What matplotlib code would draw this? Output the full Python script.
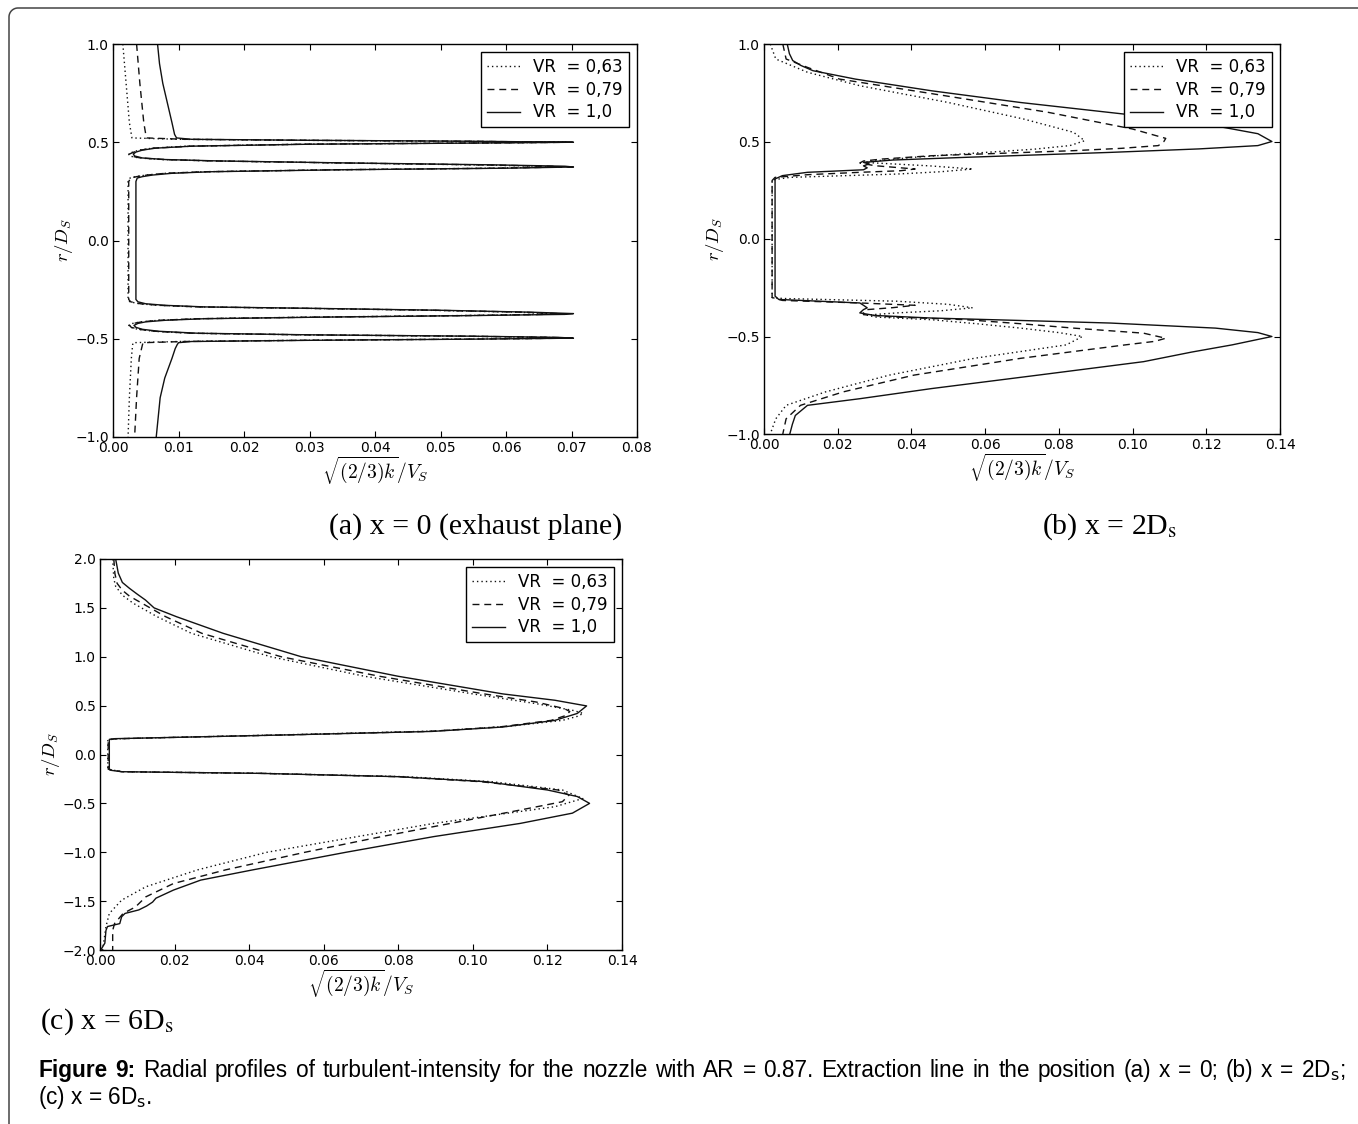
import numpy as np
import matplotlib
matplotlib.use("Agg")
import matplotlib.pyplot as plt

plt.rcParams["font.family"] = ["DejaVu Sans"]
plt.rcParams["mathtext.fontset"] = "cm"

W, H = 1358, 1124

# ---------------- data: r/D_s vs sqrt(2k/3)/V_s ----------------
labels = ["VR  = 0,63", "VR  = 0,79", "VR  = 1,0"]
dash_patterns = [(1.0, 2.2), (5.0, 3.5), None]

# (a) x = 0, exhaust plane
a_r_solid = [1.00, 0.90, 0.80, 0.70, 0.60, 0.54, 0.522, 0.515, 0.510, 0.505, 0.500, 0.497, 0.490,
             0.480, 0.470, 0.460, 0.450, 0.440, 0.430, 0.420, 0.412, 0.405, 0.395, 0.385, 0.378,
             0.374, 0.368, 0.360, 0.350, 0.342, 0.333, 0.325, 0.318, 0.300, 0.10,
             -0.10, -0.300, -0.312, -0.322, -0.330, -0.338, -0.345, -0.355, -0.365, -0.372,
             -0.376, -0.382, -0.390, -0.398, -0.406, -0.414, -0.422, -0.432, -0.442, -0.452,
             -0.462, -0.472, -0.480, -0.487, -0.493, -0.497, -0.502, -0.508, -0.514, -0.520,
             -0.530, -0.55, -0.60, -0.70, -0.80, -0.90, -1.00]
a_k_solid = [0.0068, 0.0071, 0.0076, 0.0083, 0.0090, 0.0094, 0.0097, 0.0120, 0.030, 0.055, 0.0703,
             0.060, 0.030, 0.012, 0.0065, 0.0045, 0.0035, 0.0031, 0.0033, 0.0045, 0.0080, 0.016,
             0.035, 0.058, 0.069, 0.0703, 0.060, 0.035, 0.015, 0.009, 0.006, 0.0045, 0.0037,
             0.0035, 0.0035,
             0.0035, 0.0035, 0.0038, 0.0050, 0.0080, 0.014, 0.030, 0.050, 0.064, 0.0703,
             0.069, 0.055, 0.032, 0.014, 0.008, 0.0050, 0.0038, 0.0032, 0.0035, 0.0045,
             0.0070, 0.013, 0.030, 0.055, 0.068, 0.0703, 0.055, 0.030, 0.012, 0.0100,
             0.0098, 0.0095, 0.0090, 0.0079, 0.0072, 0.0069, 0.0066]

a_r_thin = [1.00, 0.80, 0.60, 0.54, 0.522, 0.515, 0.510, 0.505, 0.500, 0.497, 0.490, 0.480,
            0.470, 0.460, 0.450, 0.440, 0.430, 0.420, 0.412, 0.405, 0.395, 0.385, 0.378, 0.374,
            0.368, 0.360, 0.350, 0.342, 0.333, 0.325, 0.318, 0.300, 0.10,
            -0.10, -0.300, -0.312, -0.322, -0.330, -0.338, -0.345, -0.355, -0.365, -0.372,
            -0.376, -0.382, -0.390, -0.398, -0.406, -0.414, -0.422, -0.432, -0.442, -0.452,
            -0.462, -0.472, -0.480, -0.487, -0.493, -0.497, -0.502, -0.508, -0.514, -0.520,
            -0.530, -0.60, -0.80, -1.00]
a_k_dotted = [0.0015, 0.0020, 0.0025, 0.0028, 0.0029, 0.0100, 0.028, 0.052, 0.069, 0.058,
              0.029, 0.011, 0.0060, 0.0040, 0.0030, 0.0024, 0.0025, 0.0040, 0.0075, 0.015,
              0.034, 0.055, 0.065, 0.0665, 0.058, 0.034, 0.014, 0.008, 0.0050, 0.0035, 0.0026,
              0.0023, 0.0023,
              0.0023, 0.0023, 0.0026, 0.0040, 0.0070, 0.013, 0.029, 0.048, 0.062, 0.0665,
              0.065, 0.053, 0.030, 0.013, 0.007, 0.0042, 0.0030, 0.0024, 0.0027, 0.0038,
              0.0062, 0.012, 0.029, 0.053, 0.066, 0.069, 0.053, 0.028, 0.010, 0.0031,
              0.0030, 0.0028, 0.0025, 0.0023]
a_k_dashed = [0.0036, 0.0041, 0.0047, 0.0050, 0.0051, 0.0110, 0.029, 0.054, 0.070, 0.059,
              0.029, 0.012, 0.0062, 0.0042, 0.0032, 0.0025, 0.0027, 0.0042, 0.0078, 0.015,
              0.034, 0.056, 0.067, 0.0685, 0.059, 0.034, 0.014, 0.008, 0.0052, 0.0036, 0.0027,
              0.0024, 0.0024,
              0.0024, 0.0024, 0.0027, 0.0042, 0.0072, 0.013, 0.029, 0.049, 0.063, 0.068,
              0.066, 0.054, 0.031, 0.013, 0.007, 0.0044, 0.0031, 0.0025, 0.0028, 0.0040,
              0.0065, 0.012, 0.029, 0.054, 0.067, 0.070, 0.054, 0.029, 0.011, 0.0046,
              0.0045, 0.0040, 0.0036, 0.0033]

# (b) x = 2 D_s
b_r_dotted = [1.00, 0.923, 0.855, 0.786, 0.70, 0.615, 0.547, 0.504, 0.479, 0.46, 0.444, 0.419,
              0.40, 0.393, 0.375, 0.359, 0.345, 0.333, 0.316, 0.304, 0.30,
              -0.30, -0.305, -0.319, -0.335, -0.353, -0.368, -0.379, -0.39, -0.40, -0.414,
              -0.435, -0.457, -0.48, -0.50, -0.543, -0.612, -0.698, -0.784, -0.853, -0.922, -1.0]
b_k_dotted = [0.0017, 0.0032, 0.0118, 0.026, 0.050, 0.0705, 0.084, 0.087, 0.083, 0.073, 0.060,
              0.0407, 0.030, 0.027, 0.045, 0.0566, 0.048, 0.036, 0.007, 0.0027, 0.0022,
              0.0022, 0.005, 0.036, 0.050, 0.0566, 0.048, 0.036, 0.028, 0.030, 0.0455,
              0.058, 0.0696, 0.080, 0.0864, 0.082, 0.057, 0.034, 0.0167, 0.006, 0.0032, 0.0017]
b_r_dashed = [1.00, 0.923, 0.88, 0.82, 0.735, 0.65, 0.564, 0.516, 0.50, 0.479, 0.465, 0.453,
              0.44, 0.427, 0.41, 0.40, 0.39, 0.376, 0.359, 0.350, 0.342, 0.33, 0.316, 0.30,
              -0.30, -0.315, -0.328, -0.34, -0.352, -0.362, -0.375, -0.388, -0.40, -0.414,
              -0.435, -0.457, -0.483, -0.509, -0.525, -0.543, -0.612, -0.698, -0.784, -0.853,
              -0.922, -1.0]
b_k_dashed = [0.0051, 0.006, 0.0118, 0.0205, 0.049, 0.077, 0.100, 0.109, 0.1085, 0.107, 0.097,
              0.084, 0.065, 0.0455, 0.032, 0.027, 0.026, 0.030, 0.041, 0.037, 0.026, 0.012,
              0.003, 0.0022,
              0.0022, 0.005, 0.026, 0.041, 0.035, 0.028, 0.027, 0.027, 0.035, 0.055,
              0.070, 0.084, 0.103, 0.109, 0.106, 0.098, 0.0696, 0.0407, 0.0215, 0.0099,
              0.006, 0.0051]
b_r_solid = [1.00, 0.95, 0.915, 0.89, 0.863, 0.82, 0.76, 0.70, 0.64, 0.58, 0.54, 0.50, 0.479,
             0.462, 0.444, 0.430, 0.419, 0.405, 0.393, 0.385, 0.375, 0.365, 0.355, 0.342, 0.325,
             0.308, 0.30,
             -0.293, -0.31, -0.328, -0.340, -0.353, -0.362, -0.379, -0.392, -0.405, -0.418,
             -0.431, -0.457, -0.48, -0.50, -0.543, -0.58, -0.629, -0.698, -0.767, -0.819,
             -0.853, -0.905, -0.95, -1.0]
b_k_solid = [0.0063, 0.0069, 0.0078, 0.0100, 0.0133, 0.0248, 0.0455, 0.0696, 0.098, 0.1225,
             0.134, 0.1378, 0.134, 0.118, 0.0937, 0.072, 0.055, 0.035, 0.027, 0.0285, 0.027,
             0.028, 0.027, 0.0118, 0.005, 0.003, 0.0030,
             0.0030, 0.004, 0.026, 0.027, 0.028, 0.027, 0.026, 0.030, 0.045, 0.07,
             0.094, 0.1225, 0.134, 0.1378, 0.127, 0.116, 0.103, 0.0744, 0.0455, 0.026,
             0.0118, 0.0085, 0.0077, 0.007]

# (c) x = 6 D_s
c_r_dotted = [2.0, 1.80, 1.72, 1.63, 1.55, 1.41, 1.24, 1.0, 0.80, 0.62, 0.52, 0.45, 0.42, 0.39,
              0.349, 0.29, 0.24, 0.205, 0.171, 0.160, 0.150,
              -0.15, -0.16, -0.176, -0.193, -0.227, -0.278, -0.363, -0.45, -0.534, -0.705,
              -0.84, -1.0, -1.18, -1.353, -1.49, -1.626, -1.76, -2.0]
c_k_dotted = [0.0034, 0.0037, 0.0042, 0.0060, 0.0088, 0.0153, 0.0245, 0.0458, 0.071, 0.100,
              0.117, 0.127, 0.1296, 0.128, 0.124, 0.110, 0.090, 0.053, 0.015, 0.004, 0.0021,
              0.0021, 0.0035, 0.0060, 0.044, 0.082, 0.105, 0.124, 0.1295, 0.122, 0.0895,
              0.069, 0.0448, 0.0262, 0.0123, 0.0058, 0.0025, 0.0016, 0.0007]
c_r_dashed = [2.0, 1.85, 1.75, 1.68, 1.62, 1.41, 1.24, 1.0, 0.80, 0.62, 0.537, 0.47, 0.44, 0.40,
              0.349, 0.281, 0.236, 0.202, 0.171, 0.160, 0.150,
              -0.15, -0.16, -0.176, -0.193, -0.227, -0.278, -0.363, -0.415, -0.483, -0.568,
              -0.705, -0.84, -1.0, -1.18, -1.32, -1.456, -1.56, -1.626, -1.73, -1.80, -2.0]
c_k_dashed = [0.0037, 0.0040, 0.0046, 0.0060, 0.0079, 0.0176, 0.0273, 0.0486, 0.075, 0.103,
              0.117, 0.1245, 0.126, 0.125, 0.121, 0.107, 0.088, 0.052, 0.015, 0.004, 0.0022,
              0.0022, 0.0035, 0.0058, 0.043, 0.080, 0.102, 0.1228, 0.1258, 0.124, 0.1127,
              0.094, 0.0755, 0.055, 0.0337, 0.0197, 0.0123, 0.0095, 0.0062, 0.0039, 0.0034,
              0.0034]
c_r_solid = [2.0, 1.856, 1.76, 1.70, 1.64, 1.58, 1.50, 1.41, 1.24, 1.0, 0.80, 0.62, 0.555,
             0.497, 0.42, 0.349, 0.281, 0.236, 0.202, 0.171, 0.162, 0.155,
             -0.155, -0.162, -0.176, -0.193, -0.227, -0.278, -0.363, -0.43, -0.5, -0.60,
             -0.705, -0.84, -1.0, -1.18, -1.285, -1.387, -1.47, -1.51, -1.55, -1.59, -1.626,
             -1.66, -1.73, -1.76, -1.80, -1.93, -2.0]
c_k_solid = [0.0042, 0.0049, 0.0060, 0.0079, 0.0100, 0.0122, 0.0145, 0.0205, 0.0330, 0.054,
             0.080, 0.108, 0.122, 0.1305, 0.128, 0.122, 0.108, 0.089, 0.052, 0.015, 0.004,
             0.0025,
             0.0025, 0.0030, 0.0058, 0.043, 0.080, 0.1034, 0.120, 0.128, 0.1313, 0.1267,
             0.1127, 0.0895, 0.066, 0.041, 0.027, 0.0197, 0.015, 0.0141, 0.0125, 0.0104,
             0.0067, 0.0058, 0.0053, 0.002, 0.0016, 0.0013, 0.0002]

panel_a = [(a_k_dotted, a_r_thin), (a_k_dashed, a_r_thin), (a_k_solid, a_r_solid)]
panel_b = [(b_k_dotted, b_r_dotted), (b_k_dashed, b_r_dashed), (b_k_solid, b_r_solid)]
panel_c = [(c_k_dotted, c_r_dotted), (c_k_dashed, c_r_dashed), (c_k_solid, c_r_solid)]

a_xticks = [0.00, 0.01, 0.02, 0.03, 0.04, 0.05, 0.06, 0.07, 0.08]
b_xticks = [0.00, 0.02, 0.04, 0.06, 0.08, 0.10, 0.12, 0.14]
c_xticks = b_xticks
ab_yticks = [-1.0, -0.5, 0.0, 0.5, 1.0]
c_yticks = [-2.0, -1.5, -1.0, -0.5, 0.0, 0.5, 1.0, 1.5, 2.0]

xlabel = r"$\sqrt{(2/3)k}/V_S$"
ylabel = r"$r/D_S$"

fig = plt.figure(figsize=(W / 100, H / 100), dpi=100)


def px_axes(left, top, right, bottom):
    return fig.add_axes([left / W, 1 - bottom / H, (right - left) / W, (bottom - top) / H])


def draw_panel(ax, curves, xlim, ylim, xticks, yticks):
    for (k, r), dp, lab in zip(curves, dash_patterns, labels):
        line, = ax.plot(k, r, color="#111111", lw=1.0, label=lab)
        if dp is not None:
            line.set_dashes(dp)
    ax.set_xlim(*xlim)
    ax.set_ylim(*ylim)
    ax.set_xticks(xticks)
    ax.set_xticklabels(["%.2f" % t for t in xticks])
    ax.set_yticks(yticks)
    ax.set_yticklabels([("%.1f" % t).replace("-", "\u2212") for t in yticks])
    ax.tick_params(direction="in", top=True, right=True, length=4, width=0.8,
                   labelsize=10, pad=3)
    for s in ax.spines.values():
        s.set_linewidth(1.0)
    ax.set_xlabel(xlabel, fontsize=14, labelpad=0)
    ax.set_ylabel(ylabel, fontsize=13.5, labelpad=0)
    leg = ax.legend(loc="upper right", fontsize=12, frameon=True, fancybox=False,
                    edgecolor="black", framealpha=1, borderaxespad=0.5,
                    handlelength=2.0, labelspacing=0.28, borderpad=0.35)
    leg.get_frame().set_linewidth(1.0)


ax_a = px_axes(113, 44, 637, 437)
draw_panel(ax_a, panel_a, (0, 0.08), (-1, 1), a_xticks, ab_yticks)
ax_b = px_axes(764, 44, 1280, 434)
draw_panel(ax_b, panel_b, (0, 0.14), (-1, 1), b_xticks, ab_yticks)
ax_c = px_axes(100, 559, 622, 950)
draw_panel(ax_c, panel_c, (0, 0.14), (-2, 2), c_xticks, c_yticks)

# full-figure overlay in pixel units for the frame and captions
ov = fig.add_axes([0, 0, 1, 1], zorder=-1)
ov.set_xlim(0, W)
ov.set_ylim(H, 0)
ov.axis("off")

# rounded frame on the left and top edges
rad = 9
x0, y0 = 9, 8
th = np.linspace(np.pi, 1.5 * np.pi, 20)
fx = np.concatenate([[x0], x0 + rad + rad * np.cos(th), [W + 5]])
fy = np.concatenate([[H + 5], y0 + rad + rad * np.sin(th), [y0]])
ov.plot(fx, fy, color="#444444", lw=1.1, solid_capstyle="butt")

serif = ["Liberation Serif", "DejaVu Serif"]
sub_fs = 21.5
ov.text(476, 527, "(a) x = 0 (exhaust plane)", family=serif, fontsize=sub_fs,
        ha="center", va="center")
ov.text(1110, 527, r"(b) x = 2D$_\mathrm{s}$", family=serif, fontsize=sub_fs,
        ha="center", va="center", math_fontfamily="stix")
ov.text(40, 1022, r"(c) x = 6D$_\mathrm{s}$", family=serif, fontsize=sub_fs,
        ha="left", va="center", math_fontfamily="stix")

# figure caption: first line justified between the margins
sans = ["Liberation Sans", "DejaVu Sans"]
cap_fs = 16.3
line1 = [("Figure", True), ("9:", True)] + [(w, False) for w in (
    "Radial profiles of turbulent-intensity for the nozzle with AR = 0.87. "
    "Extraction line in the position (a) x = 0; (b) x =").split()] + [(r"2D$_\mathrm{s}$;", False)]
cap_left, cap_right, cap_y1, cap_y2 = 38, 1345, 1077, 1104
word_artists = []
for w, bold in line1:
    t = ov.text(0, cap_y1, w, family=sans, fontsize=cap_fs,
                weight="bold" if bold else "normal", ha="left", va="baseline",
                math_fontfamily="dejavusans")
    word_artists.append(t)
fig.canvas.draw()
renderer = fig.canvas.get_renderer()
widths = [t.get_window_extent(renderer).width for t in word_artists]
gap = (cap_right - cap_left - sum(widths)) / (len(widths) - 1)
xpos = cap_left
for t, wd in zip(word_artists, widths):
    t.set_x(xpos)
    xpos += wd + gap
ov.text(cap_left, cap_y2, r"(c) x = 6D$_\mathrm{s}$.", family=sans, fontsize=cap_fs,
        ha="left", va="baseline", math_fontfamily="dejavusans")

fig.savefig("out.png", dpi=100)
